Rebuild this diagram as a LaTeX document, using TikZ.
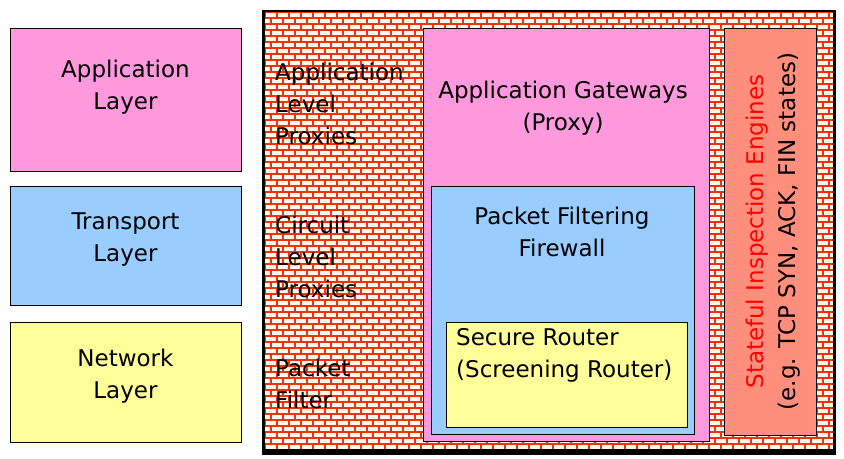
\documentclass[tikz,border=0pt]{standalone}
\usepackage{fontspec}
\setmainfont{DejaVu Sans}
\usepackage{tikz}

\definecolor{apppink}{RGB}{255,153,221}
\definecolor{tcpblue}{RGB}{153,204,255}
\definecolor{netyellow}{RGB}{255,255,153}
\definecolor{salmon}{RGB}{255,143,124}
\definecolor{brickred}{RGB}{236,52,12}
\definecolor{brickwhite}{RGB}{255,249,238}

\begin{document}
\begin{tikzpicture}[x=1bp, y=-1bp,
	box/.style={draw=black, line width=0.8bp},
	lbl/.style={font=\fontsize{23bp}{32bp}\selectfont, align=center, inner sep=0pt},
	mortar/.style={draw=brickred, line width=1.3bp}]

	\useasboundingbox (0,0) rectangle (844,459);

	%% Draw layer boxes
	\draw[box, fill=apppink]   (10,28)  rectangle (241,171);
	\draw[box, fill=tcpblue]   (10,186) rectangle (241,305);
	\draw[box, fill=netyellow] (10,322) rectangle (241,442);

	\node[lbl] (applayer)   at (125.5,87)  {Application\\Layer};
	\node[lbl] (translayer) at (125.5,240) {Transport\\Layer};
	\node[lbl] (netlayer)   at (125.5,376) {Network\\Layer};

	%% Draw brick wall
	\fill[brickwhite] (265,12) rectangle (834,450);
	\begin{scope}
	\clip (265,12) rectangle (834,450);
	\foreach \r in {0,...,73} {
		\pgfmathsetmacro{\off}{mod(\r,2)*6}
		\draw[mortar] (265,12+6*\r) -- (834,12+6*\r);
		\draw[mortar] \foreach \c in {-1,...,48} {(265+\off+12*\c,12+6*\r) -- ++(0,6)};
	}
	\end{scope}
	\draw[line width=2.5bp] (263.5,11) rectangle (834.5,450.5);
	\fill[black] (262,449) rectangle (836,454.5);

	%% Draw proxy boxes
	\draw[box, fill=apppink]   (423,28)  rectangle (709,441);
	\draw[box, fill=tcpblue]   (431,186) rectangle (694,434);
	\draw[box, fill=netyellow] (446,322) rectangle (687,427);
	\draw[box, fill=salmon]    (724,28)  rectangle (816,435);

	%% Draw text on wall
	\node[lbl, align=left, anchor=west] (appproxy)  at (275,103.5) {Application\\Level\\Proxies};
	\node[lbl, align=left, anchor=west] (cirproxy)  at (275,257)   {Circuit\\Level\\Proxies};
	\node[lbl, align=left, anchor=west] (pktfilter) at (275,384)   {Packet\\Filter};

	%% Draw text on boxes
	\node[lbl] (gateway)  at (563,108) {Application Gateways\\(Proxy)};
	\node[lbl] (firewall) at (562,232) {Packet Filtering\\Firewall};
	\node[lbl, align=left, anchor=west] (router) at (456,355.5) {Secure Router\\(Screening Router)};
	\node[lbl, rotate=90] (stateful) at (773,231.5)
		{\textcolor{red}{Stateful Inspection Engines}\\(e.g. TCP SYN, ACK, FIN states)};
\end{tikzpicture}
\end{document}
